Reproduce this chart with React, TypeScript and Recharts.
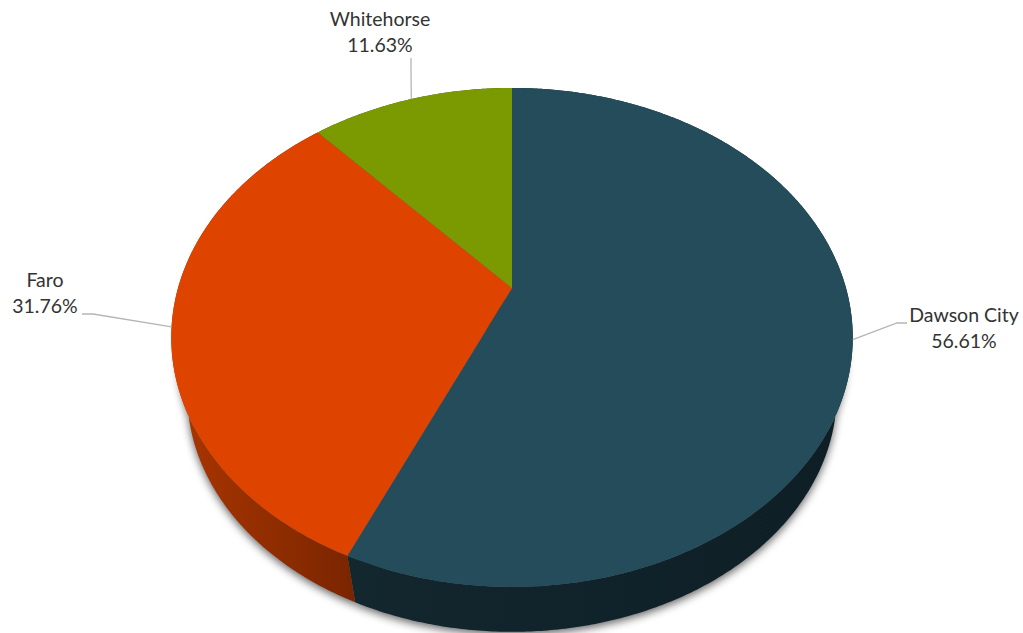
import React from 'react';
import { PieChart, Pie } from 'recharts';

const cities = ['Dawson City', 'Faro', 'Whitehorse'];
const shares = [56.61, 31.76, 11.63];
const shareLabels = ['56.61%', '31.76%', '11.63%'];
const faceColors = ['#254c5b', '#de4300', '#7b9900'];
const sideStops = [
  ['#13272f', '#0e1e25'],
  ['#ab3600', '#7a2500'],
  ['#4f6300', '#3d4c00'],
];

const tableData = cities.map((name, i) => ({
  name,
  value: shares[i],
  text: shareLabels[i],
  fill: faceColors[i],
  side: `url(#side-${i})`,
}));

const RAD = Math.PI / 180;
// the pie is seen in perspective: the slices meet above the middle of the outline
const PERSPECTIVE = -0.198;
const VERTICAL = 0.7177;
const TOP = { scale: 1, drop: 0 };
// base of the drum, relative to the top face
const BASE = { scale: 0.953, drop: 59 };
// part of the shadow that peeks out beside the top face
const UPPER_SHADOW = { scale: 0.98, drop: 20 };

const project = (cx: number, cy: number, r: number, angle: number, level = TOP) => {
  const u = Math.cos(angle * RAD);
  const v = -Math.sin(angle * RAD);
  const d = 1 + PERSPECTIVE * v;
  const x = (r * u) / d;
  const y = (r * VERTICAL * v) / d;
  return { x: cx + x * level.scale, y: cy + y * level.scale + level.drop };
};

const arcPoints = (p: any, level = TOP) => {
  const pts: { x: number; y: number }[] = [];
  const steps = Math.max(2, Math.ceil(Math.abs(p.endAngle - p.startAngle) * 2));
  for (let i = 0; i <= steps; i++) {
    const a = p.startAngle + ((p.endAngle - p.startAngle) * i) / steps;
    pts.push(project(p.cx, p.cy, p.outerRadius, a, level));
  }
  return pts;
};

const toPath = (pts: { x: number; y: number }[]) =>
  'M' + pts.map((q) => `${q.x.toFixed(2)},${q.y.toFixed(2)}`).join('L') + 'Z';

const wedgePath = (p: any, level = TOP) =>
  toPath([{ x: p.cx, y: p.cy + level.drop }, ...arcPoints(p, level)]);

const ShadowShape = (p: any) => (
  <path
    d={wedgePath(p, { scale: BASE.scale, drop: BASE.drop + 3 }) + wedgePath(p, UPPER_SHADOW)}
    fill="#000"
    fillOpacity={0.6}
    stroke="none"
    filter="url(#pieShadow)"
  />
);

const SideShape = (p: any) => (
  <path
    d={toPath([...arcPoints(p), ...arcPoints(p, BASE).reverse()])}
    fill={p.side}
    stroke="none"
  />
);

const FaceShape = (p: any) => <path d={wedgePath(p)} fill={p.fill} stroke="none" />;

const labelSpots: Record<string, { bend: number[]; end: number[]; x: number; y: number }> = {
  'Dawson City': { bend: [897, 323], end: [907, 323], x: 964, y: 316 },
  Faro: { bend: [93, 314], end: [82, 314], x: 45, y: 281 },
  Whitehorse: { bend: [411, 70], end: [411, 58], x: 380, y: 20 },
};

const CalloutLabel = (p: any) => {
  const spot = labelSpots[p.name];
  const mid = project(p.cx, p.cy, p.outerRadius, p.midAngle);
  return (
    <g>
      <polyline
        points={`${mid.x},${mid.y} ${spot.bend.join(',')} ${spot.end.join(',')}`}
        fill="none"
        stroke="#b5b5b5"
        strokeWidth={1.3}
      />
      <text
        x={spot.x}
        textAnchor="middle"
        fontFamily="Lato, sans-serif"
        fontSize={19.5}
        fill="#333"
      >
        <tspan x={spot.x} y={spot.y + 6}>{p.name}</tspan>
        <tspan x={spot.x} y={spot.y + 32}>{p.text}</tspan>
      </text>
    </g>
  );
};

export default function App() {
  return (
    <div style={{ position: 'absolute', left: 0, top: 0, width: 1023, height: 633, background: '#fff' }}>
      <PieChart width={1023} height={633} margin={{ top: 0, right: 0, bottom: 0, left: 0 }}>
        <defs>
          <filter id="pieShadow" x="-10%" y="-10%" width="120%" height="120%">
            <feGaussianBlur stdDeviation="4" />
          </filter>
          {sideStops.map((stops, i) => (
            <linearGradient key={i} id={`side-${i}`} x1="0" y1="0" x2="1" y2="0">
              <stop offset="0%" stopColor={stops[0]} />
              <stop offset="100%" stopColor={stops[1]} />
            </linearGradient>
          ))}
        </defs>
        {[ShadowShape, SideShape].map((shape, i) => (
          <Pie
            key={i}
            data={tableData}
            dataKey="value"
            nameKey="name"
            cx={512}
            cy={288}
            outerRadius={334}
            startAngle={90}
            endAngle={-270}
            shape={shape}
            labelLine={false}
            isAnimationActive={false}
          />
        ))}
        <Pie
          data={tableData}
          dataKey="value"
          nameKey="name"
          cx={512}
          cy={288}
          outerRadius={334}
          startAngle={90}
          endAngle={-270}
          shape={FaceShape}
          label={CalloutLabel}
          labelLine={false}
          isAnimationActive={false}
        />
      </PieChart>
    </div>
  );
}
